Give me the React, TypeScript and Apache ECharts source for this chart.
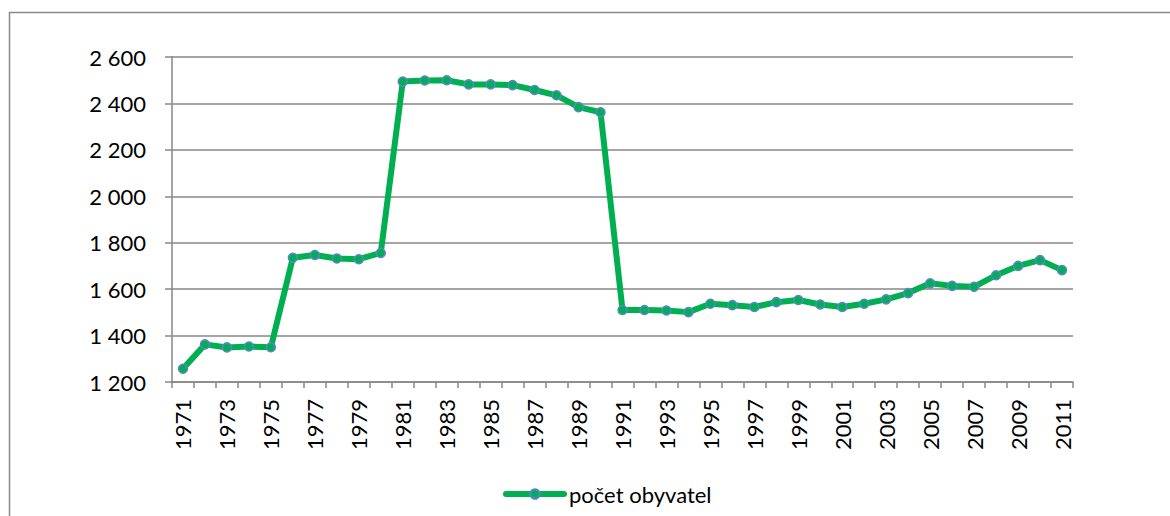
import React, { useEffect, useRef } from "react";
import * as echarts from "echarts";

const years: string[] = [];
for (let y = 1971; y <= 2011; y++) years.push(String(y));

const population = [
  1257, 1362, 1349, 1353, 1350, 1735, 1747, 1732, 1729, 1756,
  2494, 2499, 2500, 2482, 2482, 2479, 2458, 2435, 2384, 2362,
  1510, 1510, 1508, 1501, 1537, 1531, 1523, 1544, 1553, 1534,
  1523, 1537, 1556, 1583, 1625, 1614, 1610, 1660, 1700, 1725,
  1682,
];

const seriesName = "počet obyvatel";

const FONT = "Lato, 'Open Sans', sans-serif";

export default function App() {
  const ref = useRef<HTMLDivElement>(null);
  useEffect(() => {
    if (!ref.current) return;
    const chart = echarts.init(ref.current, null, { renderer: "svg" });
    chart.setOption({
      animation: false,
      backgroundColor: "#ffffff",
      graphic: [
        {
          type: "rect",
          shape: { x: 9.5, y: 12.5, width: 1200, height: 560 },
          style: { fill: "none", stroke: "#898989", lineWidth: 1.5 },
          silent: true,
        },
      ],
      grid: { left: 172, right: 97, top: 57, bottom: 134, containLabel: false },
      legend: {
        data: [seriesName],
        left: 498,
        top: 478,
        itemWidth: 58,
        itemHeight: 12,
        lineStyle: { width: 6, cap: "round" },
        textStyle: { fontFamily: FONT, fontSize: 22, color: "#000" },
      },
      xAxis: {
        type: "category",
        data: years,
        boundaryGap: true,
        axisLine: { lineStyle: { color: "#878787", width: 1.5 } },
        axisTick: { show: true, interval: 0, length: 6, lineStyle: { color: "#878787", width: 1.5 } },
        axisLabel: {
          interval: 1,
          rotate: 90,
          margin: 17,
          fontFamily: FONT,
          fontSize: 22,
          color: "#000",
        },
        splitLine: { show: false },
      },
      yAxis: {
        type: "value",
        min: 1200,
        max: 2600,
        interval: 200,
        axisLine: { show: true, lineStyle: { color: "#878787", width: 1.5 } },
        axisTick: { show: true, length: 7, lineStyle: { color: "#878787", width: 1.5 } },
        axisLabel: {
          margin: 26,
          fontFamily: FONT,
          fontSize: 22,
          color: "#000",
          formatter: (v: number) => String(v).replace(/\B(?=(\d{3})+(?!\d))/g, " "),
        },
        splitLine: { show: true, lineStyle: { color: "#878787", width: 1.5 } },
      },
      series: [
        {
          name: seriesName,
          type: "line",
          data: population,
          symbol: "circle",
          symbolSize: 9,
          showAllSymbol: true,
          lineStyle: { color: "#00B050", width: 6, join: "round", cap: "round" },
          itemStyle: { color: "#00B050", borderColor: "#5B84D0", borderWidth: 1.5 },
        },
      ],
    });
    return () => chart.dispose();
  }, []);
  return (
    <div
      ref={ref}
      style={{ position: "fixed", left: 0, top: 0, width: 1170, height: 516 }}
    />
  );
}
